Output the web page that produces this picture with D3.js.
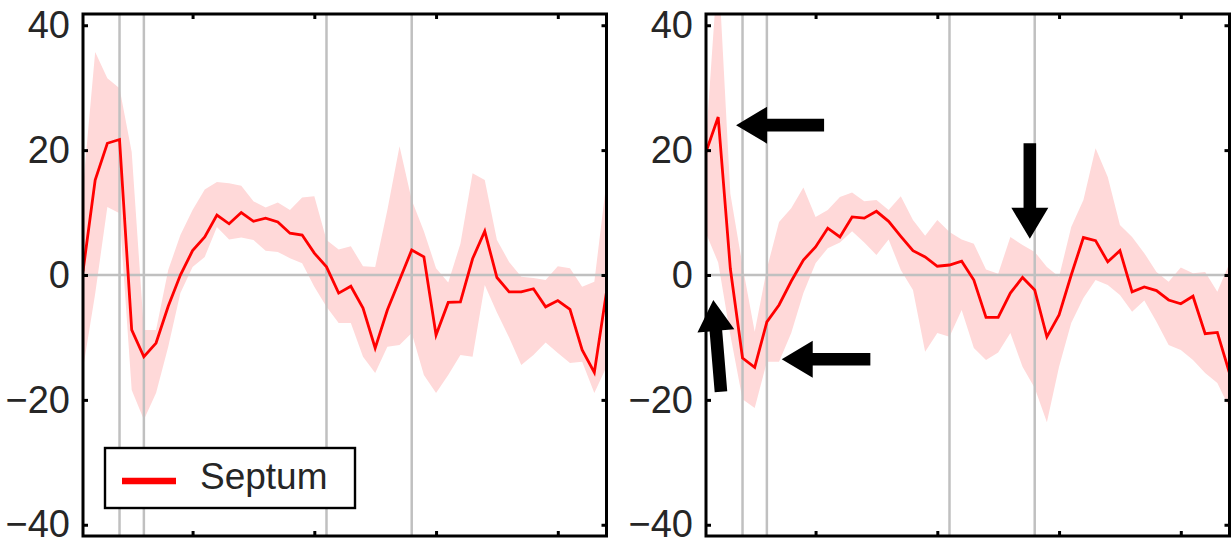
<!DOCTYPE html>
<html>
<head>
<meta charset="utf-8">
<script src="https://cdn.jsdelivr.net/npm/d3@7"></script>
<style>
  body { margin: 0; background: #fff; }
  svg { display: block; }
  text { font-family: "Liberation Sans", Arial, sans-serif; fill: #262626; }
</style>
</head>
<body>
<svg id="chart" width="1232" height="542"></svg>
<script>
// sample index along x (1..44), ticks and event markers
var frames = d3.range(1, 45);
var markers = [4, 6, 21, 28];
var yTicks = [-40, -20, 0, 20, 40];
var xTicks = [10, 20, 30, 40];

// left panel
var leftMean = [0.6, 15.2, 21.1, 21.7, -8.8, -13.1, -10.9, -5, 0, 3.9, 6.1, 9.6, 8.2, 10, 8.6, 9.1, 8.5, 6.7, 6.4, 3.5,
  1.3, -2.9, -1.8, -5.3, -11.7, -5.6, -0.8, 4, 2.9, -9.6, -4.4, -4.3, 2.6, 7, -0.4, -2.7, -2.7, -2.2, -5.1, -4.1,
  -5.5, -12, -15.6, -2.7];
var leftUpper = [14, 35.7, 31.5, 29.9, 19.7, -8.8, -8.8, 0.8, 6.4, 10.4, 13.7, 14.9, 14.7, 14.3, 11.8, 10.8, 11.6, 10.4, 12.4, 12.6,
  5.6, 4.1, 4.6, 1.4, 1.3, 10.4, 20.6, 12, 7, 1.1, -1.2, 5, 16.3, 15.2, 5.6, 2.1, -0.3, -0.5, -0.8, 1.4,
  1.1, -1.9, -1.1, 15];
var leftLower = [-15, -3, 10.9, 9.9, -18.4, -23.2, -18.9, -11.5, -2.9, 1.3, 2.9, 7.7, 5.7, 6, 5.6, 3.9, 3.7, 2.7, 1.9, -1.9,
  -5.1, -7.7, -7.7, -13.1, -15.7, -11.5, -11.2, -9.3, -16, -18.9, -16, -12.8, -13.1, -1.6, -6, -10, -14.4, -12.8, -10.8, -12.5,
  -14.1, -13.9, -18.9, -14.7];

// right panel
var rightMean = [19.7, 25.3, 1, -13.3, -14.8, -7.5, -4.8, -1, 2.4, 4.5, 7.5, 6.1, 9.3, 9.1, 10.2, 8.6, 6.2, 3.9, 2.9, 1.4,
  1.6, 2.2, -0.8, -6.8, -6.8, -2.9, -0.4, -2.4, -9.9, -6.4, 0, 6, 5.5, 2.1, 3.9, -2.7, -1.9, -2.5, -4, -4.6,
  -3.4, -9.4, -9.2, -15.7];
var rightUpper = [21.5, 50, 13, 1.5, -9.1, 1, 8.5, 10.7, 14, 9.3, 10.4, 12.5, 13.2, 11.8, 12, 10.4, 12.6, 8.8, 6.3, 8.8,
  6.9, 5.7, 5, 0.9, 0.2, 6.1, 4.8, 3.7, 1.3, -0.3, 7.7, 12, 20.3, 15.7, 8, 6.1, 3.5, 0.5, -1.1, 1.2,
  0.3, 0.5, -2.7, 1.9];
var rightLower = [6.7, 2, -9.6, -19.9, -21.3, -13.9, -13.9, -9.3, -2.9, 1.9, 4.3, 5.2, 7, 5.2, 3.2, 5.7, 0.8, -2.4, -12.3, -9.3,
  -9.9, -5.6, -11.7, -13.6, -12.4, -9.3, -14.7, -18.1, -23.6, -14.7, -7.7, -3.7, -0.8, -1.6, -3.2, -5.9, -4.1, -7.5, -11.2, -12,
  -13.6, -15.7, -17.3, -21.3];

// arrows on the right panel: tip x, tip y, tail x, tail y (data units)
var arrowTipX = [3.47, 27.6, 1.6, 7.22];
var arrowTipY = [24, 5.8, -4, -13.5];
var arrowTailX = [10.7, 27.6, 2.23, 14.5];
var arrowTailY = [24, 21.1, -18.7, -13.5];

var legendLabel = "Septum";

var svg = d3.select("#chart");
var plotTop = 14, plotBottom = 536, plotW = 523.5;

var y = d3.scaleLinear().domain([-41.8, 41.8]).range([plotBottom, plotTop]);

function drawPanel(x0, mean, upper, lower, id) {
  var x = d3.scaleLinear().domain([1, 44]).range([0, plotW]);
  var g = svg.append("g").attr("transform", "translate(" + x0 + ",0)");

  g.append("clipPath").attr("id", id)
    .append("rect").attr("x", 0).attr("y", plotTop).attr("width", plotW).attr("height", plotBottom - plotTop);

  var plot = g.append("g").attr("clip-path", "url(#" + id + ")");

  var area = d3.area()
    .x(function(d, i) { return x(frames[i]); })
    .y0(function(d, i) { return y(lower[i]); })
    .y1(function(d, i) { return y(upper[i]); });
  plot.append("path").datum(mean).attr("d", area).attr("fill", "#ffd9d9");

  plot.selectAll(".mk").data(markers).enter().append("line")
    .attr("x1", function(d) { return x(d); }).attr("x2", function(d) { return x(d); })
    .attr("y1", plotTop).attr("y2", plotBottom)
    .attr("stroke", "#c0c0c0").attr("stroke-width", 2.5);
  plot.append("line")
    .attr("x1", 0).attr("x2", plotW).attr("y1", y(0)).attr("y2", y(0))
    .attr("stroke", "#c0c0c0").attr("stroke-width", 2.5);

  var line = d3.line()
    .x(function(d, i) { return x(frames[i]); })
    .y(function(d) { return y(d); });
  plot.append("path").datum(mean).attr("d", line)
    .attr("fill", "none").attr("stroke", "#ff0000").attr("stroke-width", 2.8);

  // ticks on all four sides, pointing in
  var yl = g.append("g").call(d3.axisLeft(y).tickValues(yTicks).tickSize(-5).tickSizeOuter(0).tickPadding(13)
    .tickFormat(function(d) { return d < 0 ? "\u2212" + Math.abs(d) : d; }));
  yl.selectAll("text").style("font-size", "38px").style("font-family", "'Liberation Sans', Arial, sans-serif")
    .attr("fill", "#262626");
  g.append("g").attr("transform", "translate(" + plotW + ",0)")
    .call(d3.axisRight(y).tickValues(yTicks).tickSize(-5).tickSizeOuter(0).tickFormat(""));
  g.append("g").attr("transform", "translate(0," + plotTop + ")")
    .call(d3.axisTop(x).tickValues(xTicks).tickSize(-5).tickSizeOuter(0).tickFormat(""));
  g.append("g").attr("transform", "translate(0," + plotBottom + ")")
    .call(d3.axisBottom(x).tickValues(xTicks).tickSize(-5).tickSizeOuter(0).tickFormat(""));
  g.selectAll(".domain").remove();
  g.selectAll(".tick line").attr("stroke", "#000").attr("stroke-width", 3);

  g.append("rect").attr("x", 0).attr("y", plotTop).attr("width", plotW).attr("height", plotBottom - plotTop)
    .attr("fill", "none").attr("stroke", "#000").attr("stroke-width", 3);

  return { g: g, x: x };
}

var leftPanel = drawPanel(83, leftMean, leftUpper, leftLower, "clipL");
var rightPanel = drawPanel(706, rightMean, rightUpper, rightLower, "clipR");

// legend on the left panel
var lg = leftPanel.g.append("g");
lg.append("rect").attr("x", 22).attr("y", 448).attr("width", 250).attr("height", 60)
  .attr("fill", "#fff").attr("stroke", "#000").attr("stroke-width", 2.4);
lg.append("line").attr("x1", 39).attr("x2", 93).attr("y1", 481).attr("y2", 481)
  .attr("stroke", "#ff0000").attr("stroke-width", 6.5);
lg.append("text").attr("x", 117).attr("y", 488.5).style("font-size", "37px").text(legendLabel);

// arrows
function arrowPoints(tx, ty, sx, sy) {
  var dx = tx - sx, dy = ty - sy, len = Math.sqrt(dx * dx + dy * dy);
  var ux = dx / len, uy = dy / len, nx = -uy, ny = ux;
  var headLen = 31, headHalf = 18.5, shaftHalf = 6.3;
  var bx = tx - ux * headLen, by = ty - uy * headLen;
  return [
    [sx + nx * shaftHalf, sy + ny * shaftHalf],
    [bx + nx * shaftHalf, by + ny * shaftHalf],
    [bx + nx * headHalf, by + ny * headHalf],
    [tx, ty],
    [bx - nx * headHalf, by - ny * headHalf],
    [bx - nx * shaftHalf, by - ny * shaftHalf],
    [sx - nx * shaftHalf, sy - ny * shaftHalf]
  ];
}
rightPanel.g.selectAll(".arrow").data(arrowTipX).enter().append("polygon")
  .attr("points", function(d, i) {
    return arrowPoints(rightPanel.x(arrowTipX[i]), y(arrowTipY[i]), rightPanel.x(arrowTailX[i]), y(arrowTailY[i]))
      .map(function(p) { return p.join(","); }).join(" ");
  })
  .attr("fill", "#000");
</script>
</body>
</html>
